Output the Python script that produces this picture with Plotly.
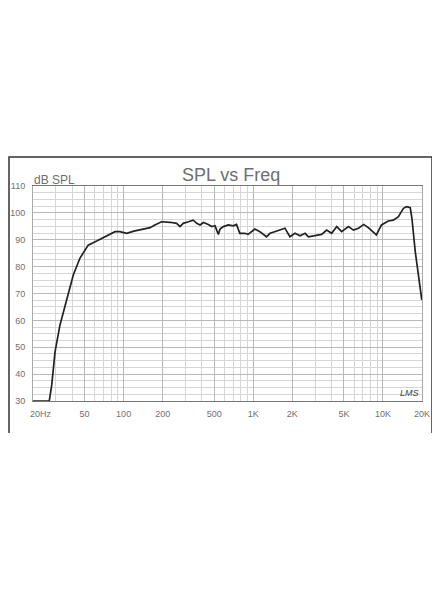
import numpy as np
import plotly.graph_objects as go

# frequency response
freq = [20, 26.7, 27.9, 29.6, 32.3, 36.4, 40.9, 46, 53.3, 62, 74, 85.8, 93.6, 105.6,
        120, 133.6, 160, 174, 196, 228, 256, 272, 288, 316, 344, 366, 389, 412, 450,
        478, 507, 522, 538, 554, 588, 642, 700, 742, 787, 860, 912, 1028, 1124, 1264,
        1346, 1460, 1752, 1916, 2096, 2294, 2510, 2660, 2990, 3366, 3680, 4020, 4400,
        4800, 5420, 5920, 6480, 7100, 7700, 8640, 8900, 9740, 10980, 12020, 13160,
        14380, 15260, 16240, 16720, 17740, 18760, 19920]
spl = [30, 30, 36, 48.4, 58.3, 68.2, 76.9, 83.1, 88, 89.5, 91.5, 93, 93, 92.4,
       93.2, 93.6, 94.5, 95.5, 96.7, 96.5, 96.1, 94.9, 96.1, 96.7, 97.3, 96.1, 95.5, 96.4, 95.7,
       94.9, 95.2, 93.6, 92, 94, 94.9, 95.5, 95.2, 95.7, 92.4, 92.4, 92, 94, 93, 91.1,
       92.4, 93, 94.3, 91.1, 92.4, 91.5, 92.4, 91.1, 91.5, 92, 93.6, 92.4, 94.9,
       93, 94.9, 93.6, 94.3, 95.7, 94.5, 92.4, 91.8, 95.5, 97, 97.3, 98.6,
       101.7, 102.3, 101.9, 98, 85.6, 76.3, 67.6]

x_ticks = [20, 50, 100, 200, 500, 1000, 2000, 5000, 10000, 20000]
x_labels = ["\u00a0" * 6 + "20Hz", "50", "100", "200", "500", "1K", "2K", "5K", "10K", "20K"]
y_ticks = [30, 40, 50, 60, 70, 80, 90, 100, 110]

fig = go.Figure()
fig.add_trace(go.Scatter(x=freq, y=spl, mode="lines",
                         line=dict(color="#222222", width=1.7), hoverinfo="skip"))

tick_font = dict(family="Liberation Sans, Arial", size=9, color="#707070")

fig.update_xaxes(type="log", range=[np.log10(20), np.log10(20000)],
                 tickvals=x_ticks, ticktext=x_labels, tickfont=tick_font,
                 showgrid=True, gridcolor="#b8b8b8", gridwidth=1,
                 minor=dict(dtick="D1", showgrid=True, gridcolor="#d6d6d6", gridwidth=1),
                 showline=True, linecolor="#777777", linewidth=1.2, mirror=True,
                 ticks="", ticklabelstandoff=4, zeroline=False, automargin=False)
fig.update_yaxes(range=[30, 110], tickvals=y_ticks, tickfont=tick_font,
                 showgrid=True, gridcolor="#b8b8b8", gridwidth=1,
                 minor=dict(dtick=2.5, showgrid=True, gridcolor="#d6d6d6", gridwidth=1),
                 showline=True, linecolor="#aaaaaa", linewidth=1, mirror=True,
                 ticks="", ticklabelstandoff=5, zeroline=False, automargin=False)

# outer frame of the scanned sheet (open at the bottom)
fig.add_shape(type="path", xref="paper", yref="paper",
              path="M -0.0617,-0.1488 L -0.0617,1.1349 L 1.0257,1.1349 L 1.0257,-0.1488",
              line=dict(color="#333333", width=1.5))

fig.add_annotation(text="SPL vs Freq", xref="paper", yref="paper", x=0.509, y=1.051,
                   showarrow=False, xanchor="center", yanchor="middle",
                   font=dict(family="Liberation Sans, Arial", size=18, color="#6e6e6e"))
fig.add_annotation(text="dB SPL", xref="paper", yref="paper", x=-0.003, y=1.028,
                   showarrow=False, xanchor="left", yanchor="middle",
                   font=dict(family="Liberation Sans, Arial", size=12, color="#6e6e6e"))
fig.add_annotation(text="LMS", xref="x", yref="y", x=4.208, y=33,
                   showarrow=False, xanchor="center", yanchor="middle",
                   font=dict(family="Liberation Sans, Arial", size=9, color="#444444", style="italic"))

# page body adds an 8px margin, so the figure is sized to fit inside it
fig.update_layout(width=424, height=570, showlegend=False,
                  margin=dict(l=25, r=10, t=178, b=177),
                  paper_bgcolor="white", plot_bgcolor="white")

fig.write_html("out.html")
